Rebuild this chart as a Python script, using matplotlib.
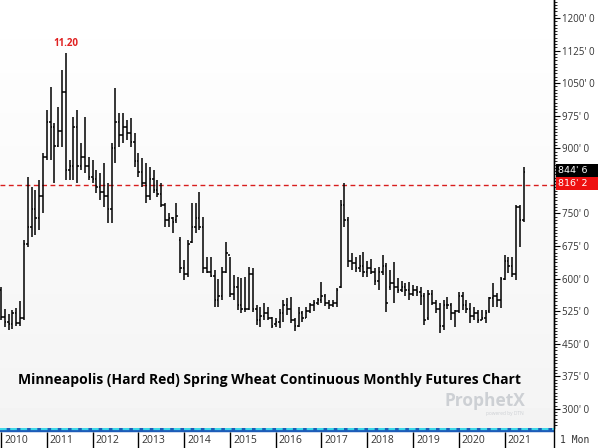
import numpy as np
import matplotlib
matplotlib.use("Agg")
import matplotlib.pyplot as plt
import matplotlib.transforms as mtransforms
from matplotlib.patches import Rectangle

# monthly OHLC, Jan 2010 .. Jun 2021 (cents/bu)
highs = [581, 530, 518, 528, 532, 548, 689, 834, 811, 804, 827, 889,
         988, 1041, 958, 995, 1080, 1120, 873, 972, 988, 912, 972, 880,
         873, 850, 843, 866, 820, 912, 1038, 981, 981, 965, 970, 935,
         889, 877, 866, 857, 850, 827, 820, 774, 751, 742, 774, 696,
         643, 689, 774, 774, 800, 742, 650, 650, 620, 600, 627, 684,
         650, 608, 604, 601, 604, 627, 625, 539, 535, 544, 535, 512,
         510, 530, 551, 555, 558, 510, 535, 525, 535, 545, 551, 555,
         592, 565, 551, 551, 578, 781, 820, 742, 659, 650, 655, 661,
         640, 645, 625, 627, 655, 636, 620, 638, 601, 595, 590, 592,
         585, 583, 580, 567, 574, 574, 551, 544, 551, 558, 544, 528,
         569, 569, 551, 544, 535, 528, 528, 528, 558, 590, 567, 604,
         654, 650, 650, 770, 770, 857]
lows = [505, 488, 482, 484, 490, 490, 505, 673, 696, 700, 712, 751,
        873, 873, 820, 903, 903, 827, 827, 827, 820, 850, 843, 827,
        820, 797, 781, 765, 728, 728, 866, 903, 912, 919, 903, 857,
        834, 811, 774, 781, 797, 788, 765, 719, 719, 705, 728, 613,
        597, 604, 682, 705, 712, 613, 613, 604, 535, 535, 551, 613,
        558, 551, 528, 521, 523, 528, 523, 493, 489, 505, 505, 486,
        488, 486, 500, 516, 498, 480, 489, 500, 510, 520, 525, 540,
        544, 538, 530, 535, 535, 578, 719, 627, 620, 615, 615, 604,
        604, 610, 585, 574, 608, 523, 574, 544, 567, 570, 560, 551,
        560, 560, 540, 493, 505, 540, 521, 475, 482, 530, 505, 489,
        521, 528, 521, 498, 505, 498, 505, 498, 521, 535, 535, 532,
        597, 613, 604, 597, 673, 730]
opens = [575, 512, 500, 495, 520, 498, 510, 680, 720, 760, 740, 790,
         880, 960, 950, 905, 940, 1030, 850, 860, 950, 860, 880, 860,
         835, 830, 810, 800, 790, 760, 900, 960, 930, 950, 935, 915,
         870, 845, 820, 790, 830, 805, 795, 770, 735, 740, 735, 690,
         625, 610, 685, 720, 740, 720, 625, 615, 605, 550, 560, 615,
         655, 565, 580, 540, 530, 530, 610, 530, 505, 515, 520, 510,
         495, 500, 520, 540, 530, 505, 490, 520, 510, 525, 540, 545,
         550, 560, 545, 540, 545, 580, 770, 735, 640, 635, 625, 630,
         615, 625, 615, 595, 615, 630, 580, 590, 580, 575, 580, 575,
         565, 575, 570, 560, 510, 565, 545, 530, 490, 540, 540, 520,
         525, 560, 540, 530, 515, 520, 505, 510, 525, 555, 560, 550,
         600, 640, 630, 610, 765, 735]
closes = [512, 500, 495, 520, 498, 510, 680, 720, 760, 740, 790, 880,
          960, 950, 905, 940, 1030, 850, 860, 950, 860, 880, 860, 835,
          830, 810, 800, 790, 760, 900, 960, 930, 950, 935, 915, 870,
          845, 820, 790, 830, 805, 795, 770, 735, 740, 730, 745, 625,
          610, 680, 720, 740, 720, 625, 615, 605, 550, 560, 615, 660,
          565, 580, 540, 530, 530, 610, 530, 505, 515, 520, 510, 492,
          500, 520, 540, 530, 505, 490, 520, 510, 525, 540, 545, 550,
          560, 545, 540, 545, 575, 770, 735, 640, 635, 625, 630, 615,
          625, 615, 595, 615, 630, 545, 590, 580, 575, 580, 575, 565,
          575, 570, 560, 505, 565, 545, 530, 490, 540, 540, 520, 525,
          560, 540, 530, 515, 520, 505, 510, 520, 555, 560, 550, 600,
          640, 630, 610, 765, 735, 844.75]
years = [2010, 2011, 2012, 2013, 2014, 2015, 2016, 2017, 2018, 2019, 2020, 2021]
ref_level = 816.25
last_price = 844.75
peak_label = "11.20"
title = "Minneapolis (Hard Red) Spring Wheat Continuous Monthly Futures Chart"


def price_fmt(v):
    whole = int(v)
    return "%d' %d" % (whole, round((v - whole) * 8))


def axis_fmt(v, pos):
    # the price boxes cover the axis label next to them
    if abs(v - ref_level) < 25 or abs(v - last_price) < 25:
        return ""
    return price_fmt(v)


W, H = 600, 448
fig = plt.figure(figsize=(W / 100, H / 100), dpi=100)
fig.patch.set_facecolor("white")
plt.rcParams["font.family"] = ["Open Sans", "DejaVu Sans"]

ax = fig.add_axes([0, 20 / H, 554 / W, 428 / H])
x = np.arange(len(highs))
ax.set_xlim(-0.262, 144.95)
ax.set_ylim(256.2, 1241.4)

# faint background shading
grad = np.linspace(1.0, 0.955, 64).reshape(-1, 1)
ax.imshow(grad, cmap="gray", vmin=0, vmax=1, aspect="auto",
          extent=[-0.262, 144.95, 256.2, 1241.4], zorder=0)

tick = 0.42
ax.vlines(x, lows, highs, color="black", lw=1.1, zorder=3)
ax.hlines(opens, x - tick, x, color="black", lw=1.1, zorder=3)
ax.hlines(closes, x, x + tick, color="black", lw=1.1, zorder=3)

ax.axhline(ref_level, color="#d81e1e", lw=1.0, ls=(0, (3.5, 2.5)), zorder=2)

i_peak = int(np.argmax(highs))
ax.annotate(peak_label, xy=(i_peak, highs[i_peak]), xytext=(0, 3),
            textcoords="offset points", ha="center", va="bottom",
            color="#e02020", fontsize=7, fontweight="bold")

# right price axis
for s in ["top", "left", "bottom"]:
    ax.spines[s].set_visible(False)
ax.spines["right"].set_color("black")
ax.spines["right"].set_linewidth(1.0)
ax.yaxis.tick_right()
ax.set_yticks(np.arange(300, 1201, 75))
ax.set_yticks(np.arange(262.5, 1241, 7.5), minor=True)
ax.yaxis.set_major_formatter(plt.FuncFormatter(axis_fmt))
ax.tick_params(axis="y", which="major", length=4, width=0.8, pad=2,
               labelsize=7, labelcolor="#333333")
ax.tick_params(axis="y", which="minor", length=2, width=0.6)
ax.set_xticks([])

# price boxes on the axis (black above, red below, touching)
bt = mtransforms.blended_transform_factory(fig.transFigure, ax.transData)
for val, fc, lo, hi in [(last_price, "black", -10.5, 19.0),
                        (ref_level, "#ee1111", -12.0, 17.5)]:
    fig.add_artist(Rectangle((556 / W, val + lo), 42 / W, hi - lo,
                             transform=bt, fc=fc, ec="none", zorder=5))
    fig.text(558 / W, val + (lo + hi) / 2, price_fmt(val), transform=bt,
             color="white", fontsize=6.8, family="DejaVu Sans",
             va="center", ha="left", zorder=6)

# bottom time strip
axb = fig.add_axes([0, 0, 554 / W, 20 / H])
axb.set_xlim(ax.get_xlim())
axb.set_ylim(20, 0)
axb.axis("off")
axb.plot([-0.262, 144.95], [1.5, 1.5], color="#1d5cb8", lw=3.2,
         solid_capstyle="butt")
axb.plot([-0.262, 144.95], [1.2, 1.2], color="#3fd7e8", lw=1.6,
         ls=(0, (3, 1.6)))
for k, yr in enumerate(years):
    axb.vlines(12 * k, 3.5, 20, color="black", lw=1.0)
    axb.text(12 * k + 0.8, 12.5, str(yr), fontsize=7.5, color="#333333",
             va="center", ha="left")

fig.add_artist(plt.Line2D([554 / W, 554 / W], [0, 1], color="black", lw=1.0))
fig.text(575 / W, 8 / H, "1 Mon", fontsize=7, family="DejaVu Sans Mono",
         color="#333333", ha="center", va="center")

fig.text(270 / W, 1 - 380 / H, title, fontsize=10, fontweight="bold",
         ha="center", va="center", color="black")
fig.text(485 / W, 1 - 401 / H, "ProphetX", fontsize=12.5, fontweight="bold",
         ha="center", va="center", color="#cdd0d4")
fig.text(505 / W, 1 - 413 / H, "powered by DTN", fontsize=3.5,
         ha="center", va="center", color="#cdd0d4")

fig.savefig("out.png", dpi=100)
